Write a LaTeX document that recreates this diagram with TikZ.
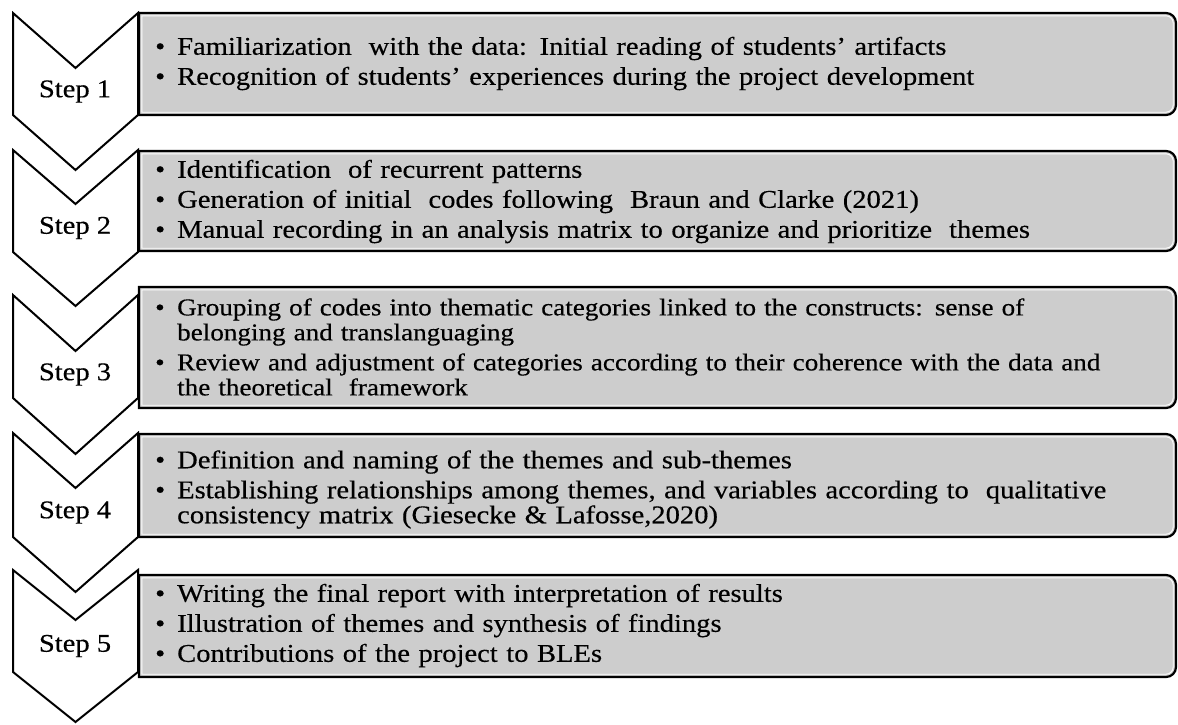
\documentclass[tikz,border=0pt]{standalone}
\usepackage{fontspec}
\setmainfont{Liberation Serif}[FakeStretch=1.12,FakeBold=0.4]
\definecolor{boxgray}{HTML}{CDCDCD}
\tikzset{
  chevron/.style={draw=black, line width=2pt, fill=white, line join=miter},
  panel/.style={fill=boxgray, draw=black, line width=2.2pt},
  panelinner/.style={draw=white, line width=0.9pt},
  steplabel/.style={font=\fontsize{25.5}{26}\selectfont, inner sep=0pt},
  itemtext/.style={anchor=west, inner sep=0pt, text width=1010pt, align=left,
                   font={\fontsize{25.5}{25}\selectfont\lineskiplimit=-50pt}},
  smalltext/.style={font={\fontsize{24.2}{25}\selectfont\lineskiplimit=-50pt}},
}
% one bulleted entry with a hanging indent
\newcommand\bul[1]{\par\hangindent=22pt\hangafter=1\noindent\makebox[22pt][l]{\textbullet}#1}
\newcommand\isep{\par\vspace{5pt}}
\begin{document}
\begin{tikzpicture}[x=1pt,y=-1pt]
\useasboundingbox (0,0) rectangle (1178,724);
% chevrons: top / bottom of the straight sides / depth of the point
\foreach \T/\B/\d/\n in {13/115/55/1, 150/252/54/2, 295/398/56/3, 433/537/55/4, 570/672/50/5}{
  \draw[chevron] (13,\T) -- (75.5,\T+\d) -- (138,\T) -- (138,\B) -- (75.5,\B+\d) -- (13,\B) -- cycle;
  \node[steplabel] (s\n) at (75,{(\T+\d+\B)/2}) {Step \n};
}
% panels: square on the left, rounded on the right
\foreach \T/\B in {13/115, 151/251, 287/408, 434/537, 575/677}{
  \draw[panel] (139,\T) -- (1166,\T) arc[start angle=-90,end angle=0,radius=10]
     -- (1176,\B-10) arc[start angle=0,end angle=90,radius=10] -- (139,\B) -- cycle;
  \draw[panelinner] (141.8,\T+2.8) -- (1166,\T+2.8) arc[start angle=-90,end angle=0,radius=7.2]
     -- (1173.2,\B-10) arc[start angle=0,end angle=90,radius=7.2] -- (141.8,\B-2.8) -- cycle;
}
\node[itemtext] (t1) at (155,60) {%
  \bul{Familiarization\ \ with the data: Initial reading of students' artifacts}\isep
  \bul{Recognition of students' experiences during the project development}\par};
\node[itemtext] (t2) at (155,198) {%
  \bul{Identification\ \ of recurrent patterns}\isep
  \bul{Generation of initial\ \ codes following\ \ Braun and Clarke (2021)}\isep
  \bul{Manual recording in an analysis matrix to organize and prioritize\ \ themes}\par};
\node[itemtext,smalltext] (t3) at (155,343) {%
  \bul{Grouping of codes into thematic categories linked to the constructs: sense of\newline belonging and translanguaging}\isep
  \bul{Review and adjustment of categories according to their coherence with the data and\newline the theoretical\ \ framework}\par};
\node[itemtext] (t4) at (155,486) {%
  \bul{Definition and naming of the themes and sub-themes}\isep
  \bul{Establishing relationships among themes, and variables according to\ \ qualitative\newline consistency matrix (Giesecke \& Lafosse,2020)}\par};
\node[itemtext] (t5) at (155,622) {%
  \bul{Writing the final report with interpretation of results}\isep
  \bul{Illustration of themes and synthesis of findings}\isep
  \bul{Contributions of the project to BLEs}\par};
\end{tikzpicture}
\end{document}
